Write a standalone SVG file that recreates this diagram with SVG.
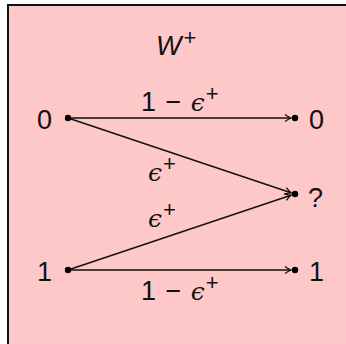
<svg xmlns="http://www.w3.org/2000/svg" width="346" height="344" viewBox="0 0 346 344">
<style>
.t{font-family:"Liberation Sans",Arial,sans-serif;font-size:27px;fill:#111}
.e{font-family:"DejaVu Serif","Liberation Serif",serif;font-style:italic;font-size:25px}
.s{font-family:"Liberation Sans",Arial,sans-serif;font-size:22px}
.edge{stroke:#111;stroke-width:1.5;fill:none}
.dot{fill:#000}
</style>
<defs>
<marker id="arr" markerWidth="10" markerHeight="10" viewBox="-8 -5 10 10" refX="0" refY="0" orient="auto" markerUnits="userSpaceOnUse">
<path d="M-6,-3.5 Q-2,-0.6 0,0 Q-2,0.6 -6,3.5" fill="none" stroke="#111" stroke-width="1.3"/>
</marker>
</defs>
<rect x="8" y="5" width="345" height="345" fill="#ffc8c8" stroke="#111" stroke-width="2"/>
<g id="title"><text class="t" x="156" y="55"><tspan font-style="italic">W</tspan><tspan class="s" dx="2" dy="-10">+</tspan></text></g>
<g id="connectors">
<line class="edge" x1="68" y1="118" x2="291" y2="118" marker-end="url(#arr)"/>
<line class="edge" x1="68" y1="118" x2="291" y2="192.8" marker-end="url(#arr)"/>
<line class="edge" x1="68" y1="270" x2="291" y2="195.2" marker-end="url(#arr)"/>
<line class="edge" x1="68" y1="270" x2="291" y2="270" marker-end="url(#arr)"/>
<text class="t" x="141" y="111" xml:space="preserve">1 <tspan dx="2">−</tspan> <tspan class="e" dx="2">ϵ</tspan><tspan class="s" dx="1" dy="-10">+</tspan></text>
<text class="t" x="148" y="181"><tspan class="e">ϵ</tspan><tspan class="s" dx="1" dy="-10">+</tspan></text>
<text class="t" x="148" y="227"><tspan class="e">ϵ</tspan><tspan class="s" dx="1" dy="-10">+</tspan></text>
<text class="t" x="141" y="300" xml:space="preserve">1 <tspan dx="2">−</tspan> <tspan class="e" dx="2">ϵ</tspan><tspan class="s" dx="1" dy="-10">+</tspan></text>
</g>
<g id="in0"><circle class="dot" cx="68" cy="118" r="3.2"/><text class="t" x="37" y="129">0</text></g>
<g id="in1"><circle class="dot" cx="68" cy="270" r="3.2"/><text class="t" x="37" y="281">1</text></g>
<g id="out0"><circle class="dot" cx="295" cy="118" r="3.2"/><text class="t" x="309" y="129">0</text></g>
<g id="outq"><circle class="dot" cx="295" cy="194" r="3.2"/><text class="t" x="308" y="207">?</text></g>
<g id="out1"><circle class="dot" cx="295" cy="270" r="3.2"/><text class="t" x="309" y="281">1</text></g>
</svg>
